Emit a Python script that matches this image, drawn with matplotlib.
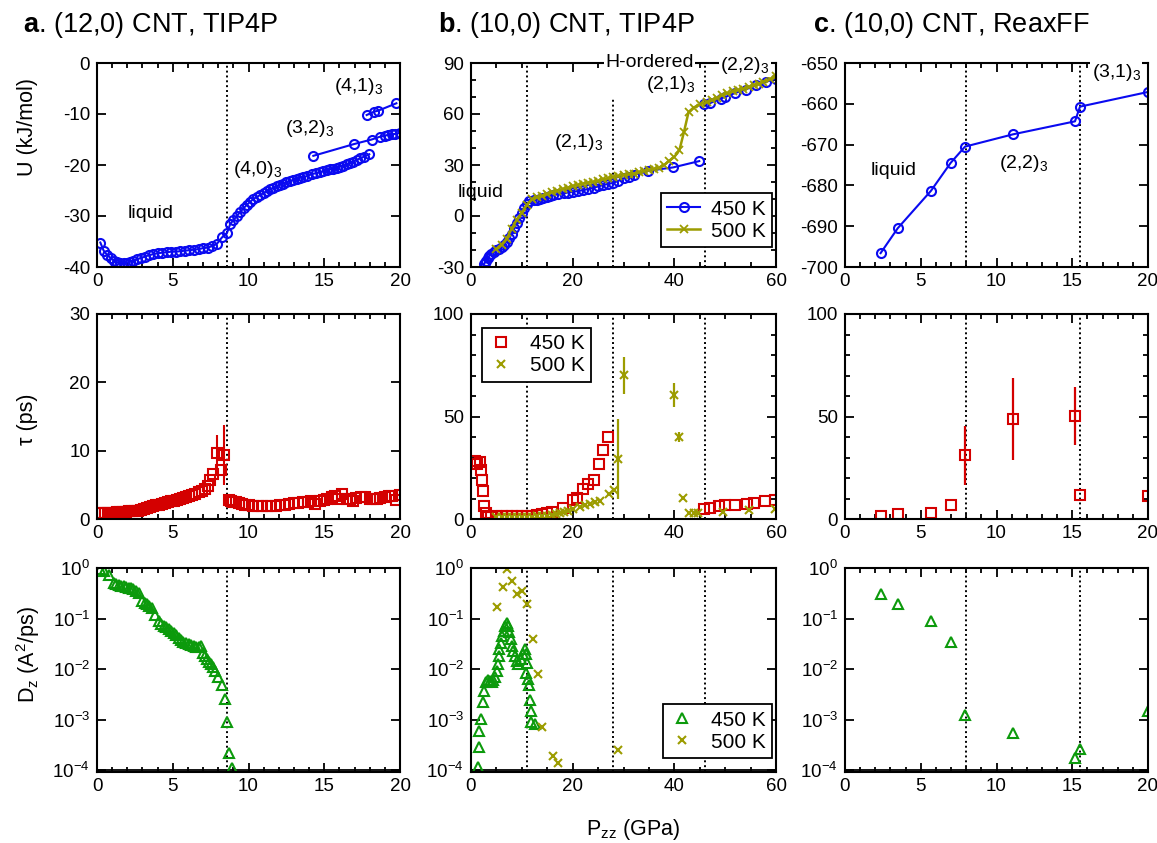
import matplotlib
matplotlib.use("Agg")
import matplotlib.pyplot as plt
from matplotlib.ticker import MultipleLocator, NullLocator, FixedLocator

plt.rcParams["font.family"] = ["Liberation Sans", "DejaVu Sans"]
plt.rcParams["mathtext.fontset"] = "custom"
plt.rcParams["mathtext.rm"] = "Liberation Sans"
plt.rcParams["mathtext.it"] = "Liberation Sans:italic"
plt.rcParams["mathtext.bf"] = "Liberation Sans:bold"
plt.rcParams["axes.unicode_minus"] = False

BLUE = "#0a0af0"
RED = "#d40000"
OLIVE = "#9c9c00"
GREEN = "#0c9a0c"

# ---------------- panel a: (12,0) CNT, TIP4P ----------------
a_u_p = [0.22, 0.44, 0.66, 0.92, 1.13, 1.35, 1.55, 1.75, 1.95, 2.15, 2.4, 2.65, 2.9,
         3.15, 3.4, 3.7, 4.0, 4.3, 4.6, 4.9, 5.2, 5.5, 5.8, 6.1, 6.4, 6.7, 7.0, 7.3,
         7.6, 7.9, 8.25, 8.57, 8.79, 9.0, 9.23, 9.45, 9.67, 9.89, 10.1, 10.3, 10.53,
         10.76, 11.0, 11.2, 11.42, 11.64, 11.86, 12.08, 12.3, 12.5, 12.73, 12.96, 13.18,
         13.4, 13.62, 13.84, 14.17, 14.45, 14.72, 14.94, 15.16, 15.38, 15.6, 15.82,
         16.04, 16.26, 16.48, 16.7, 16.9, 17.13, 17.36, 17.6, 17.97]
a_u = [-35.2, -36.8, -37.6, -38.3, -38.8, -39.1, -39.3, -39.3, -39.2, -39.0, -38.8,
       -38.5, -38.2, -38.0, -37.7, -37.5, -37.3, -37.2, -37.1, -37.0, -37.0, -36.9,
       -36.8, -36.7, -36.6, -36.5, -36.3, -36.2, -35.9, -35.5, -34.2, -33.4, -31.6,
       -30.8, -30.0, -29.2, -28.5, -27.8, -27.25, -26.7, -26.3, -25.9, -25.5, -25.1,
       -24.8, -24.45, -24.15, -23.9, -23.65, -23.4, -23.15, -22.9, -22.7, -22.5,
       -22.35, -22.2, -21.8, -21.6, -21.4, -21.2, -21.0, -20.85, -20.7, -20.5, -20.3,
       -20.1, -19.9, -19.65, -19.35, -19.0, -18.7, -18.4, -17.9]
a_u32_p = [14.28, 16.96, 18.13, 18.68, 19.0, 19.2, 19.45, 19.67, 20.0]
a_u32 = [-18.2, -15.9, -15.0, -14.45, -14.25, -14.1, -14.0, -13.9, -13.7]
a_u41_p = [17.8, 18.28, 18.56, 19.76]
a_u41 = [-10.2, -9.55, -9.35, -7.9]

a_tau_p = [0.1, 0.3, 0.5, 0.7, 0.9, 1.1, 1.3, 1.5, 1.7, 1.9, 2.1, 2.3, 2.5, 2.7, 2.9,
           3.1, 3.3, 3.5, 3.7, 3.9, 4.1, 4.3, 4.5, 4.7, 4.9, 5.1, 5.3, 5.5, 5.7, 5.9,
           6.1, 6.3, 6.5, 6.7, 6.9, 7.1, 7.3, 7.45, 7.65, 7.95, 8.17, 8.39, 8.68, 8.85,
           9.0, 9.2, 9.4, 9.6, 9.8, 10.0, 10.3, 10.6, 10.9, 11.2, 11.5, 11.8, 12.1,
           12.4, 12.7, 13.0, 13.3, 13.6, 13.9, 14.1, 14.4, 14.7, 15.0, 15.2, 15.5,
           15.7, 15.9, 16.2, 16.5, 16.7, 16.9, 17.1, 17.4, 17.7, 18.0, 18.2, 18.5,
           18.7, 19.0, 19.3, 19.5, 19.75, 20.0]
a_tau = [0.9, 0.9, 0.85, 0.9, 0.95, 0.95, 1.0, 1.0, 1.0, 1.05, 1.1, 1.1, 1.15, 1.2,
         1.3, 1.4, 1.55, 1.7, 1.85, 2.0, 2.1, 2.25, 2.4, 2.5, 2.6, 2.7, 2.8, 2.9, 3.05,
         3.2, 3.35, 3.5, 3.7, 4.0, 4.1, 4.4, 4.8, 5.7, 6.6, 9.6, 7.2, 9.4, 2.8, 2.7,
         2.55, 2.45, 2.3, 2.2, 2.1, 2.0, 1.95, 1.9, 1.85, 1.85, 1.9, 1.95, 2.0, 2.1,
         2.2, 2.3, 2.4, 2.5, 2.55, 2.6, 2.2, 2.7, 2.8, 3.0, 3.2, 3.3, 2.9, 3.6, 3.0,
         2.9, 2.6, 3.1, 3.2, 3.2, 3.0, 2.9, 3.0, 3.1, 3.2, 3.3, 3.4, 2.8, 3.5]
a_tau_err_p = [7.95, 8.39]
a_tau_err_v = [9.6, 9.4]
a_tau_err = [2.7, 4.4]

a_d_p = [0.22, 0.44, 0.77, 1.1, 1.25, 1.43, 1.6, 1.76, 1.93, 2.1, 2.25, 2.4, 2.6, 2.75,
         2.97, 3.15, 3.3, 3.45, 3.63, 3.85, 4.07, 4.25, 4.4, 4.57, 4.73, 4.9, 5.06,
         5.23, 5.4, 5.55, 5.7, 5.9, 6.05, 6.2, 6.4, 6.55, 6.7, 6.85, 7.0, 7.12, 7.25,
         7.38, 7.5, 7.65, 7.8, 8.0, 8.24, 8.46, 8.57, 8.68, 8.9]
a_d = [0.97, 0.89, 0.74, 0.51, 0.49, 0.47, 0.45, 0.44, 0.42, 0.41, 0.40, 0.38, 0.35,
       0.32, 0.22, 0.20, 0.19, 0.18, 0.165, 0.12, 0.09, 0.08, 0.072, 0.067, 0.062,
       0.057, 0.053, 0.047, 0.042, 0.038, 0.035, 0.033, 0.031, 0.030, 0.029, 0.028,
       0.027, 0.029, 0.021, 0.018, 0.016, 0.014, 0.0126, 0.011, 0.0094, 0.0069,
       0.0048, 0.0026, 0.00091, 0.00022, 0.000112]
a_trans = [8.6]

# ---------------- panel b: (10,0) CNT, TIP4P ----------------
b_u450_p = [2.5, 2.7, 3.0, 3.3, 3.6, 4.0, 4.5, 5.0, 5.5, 6.0, 6.5, 7.0, 7.5, 8.0, 8.5,
            9.0, 9.5, 10.0, 10.5, 11.0, 11.5, 12.3, 13.0, 13.6, 14.2, 14.9, 15.5,
            16.2, 17.2, 18.2, 19.1, 20.1, 21.1, 22.1, 23.1, 24.1, 25.0, 26.0, 27.0,
            28.0, 29.0, 30.0, 31.0, 32.0, 34.9, 39.8, 44.9]
b_u450 = [-28.5, -27.6, -26.2, -24.8, -23.3, -22.2, -21.2, -20.2, -19.4, -18.3, -16.8,
          -15.0, -13.0, -10.7, -7.3, -4.4, -1.4, 1.6, 4.8, 7.0, 8.6, 9.4, 9.6, 9.8,
          10.6, 11.3, 11.8, 12.3, 12.8, 13.3, 13.8, 14.25, 14.7, 15.25, 15.9, 16.6,
          17.4, 18.2, 18.9, 19.5, 20.7, 22.1, 23.2, 24.1, 26.6, 28.6, 32.3]
b_u450_hi_p = [45.9, 47.1, 49.1, 50.0, 52.0, 54.0, 56.0, 58.0, 60.0]
b_u450_hi = [65.7, 66.5, 69.1, 70.0, 72.4, 74.4, 76.9, 78.9, 80.8]
b_u500_p = [5.0, 6.0, 7.0, 8.0, 9.0, 10.0, 11.0, 12.0, 13.0, 14.0, 15.0, 16.0, 17.0,
            18.0, 19.0, 20.0, 21.0, 22.0, 23.0, 24.0, 25.0, 26.0, 27.0, 28.0, 29.0,
            30.0, 31.0, 32.0, 33.0, 34.0, 35.0, 36.0, 37.0, 38.0, 39.0, 40.0, 41.0,
            41.9, 42.8, 43.8, 45.1, 46.5, 47.4, 48.4, 49.3, 50.4, 51.6, 52.6, 53.6,
            54.6, 55.6, 56.6, 57.5, 58.8, 60.0]
b_u500 = [-19.6, -16.8, -13.4, -7.5, -2.2, 2.0, 6.5, 9.8, 11.0, 12.0, 13.0, 14.0, 14.9,
          15.8, 16.7, 17.6, 18.4, 19.1, 19.7, 20.1, 20.7, 21.5, 22.3, 23.1, 23.6,
          24.1, 24.5, 25.0, 25.7, 26.5, 27.2, 27.8, 28.5, 30.0, 32.5, 34.8, 38.7,
          49.5, 61.2, 63.8, 65.7, 67.2, 68.1, 69.5, 71.0, 72.2, 73.4, 74.2, 74.9,
          75.9, 76.9, 77.9, 78.9, 80.4, 82.2]

b_tau450_p = [0.79, 1.25, 1.77, 1.97, 2.17, 2.36, 2.62, 2.95, 3.4, 4.0, 5.0, 6.0, 7.0,
              8.0, 9.0, 10.0, 11.0, 12.0, 13.0, 14.0, 15.0, 16.0, 18.1, 20.0, 20.9,
              22.0, 23.1, 24.1, 25.1, 26.0, 27.0, 45.9, 47.0, 48.8, 50.0, 52.0, 54.3,
              55.6, 57.9, 59.8]
b_tau450 = [28.3, 27.0, 27.9, 23.8, 18.9, 13.7, 6.2, 2.9, 1.0, 1.2, 1.3, 1.3, 1.3, 1.3,
            1.3, 1.4, 1.5, 1.6, 1.8, 2.2, 2.8, 3.6, 5.4, 9.1, 10.4, 14.8, 17.3, 19.2,
            27.0, 33.9, 39.8, 5.1, 5.4, 6.2, 6.7, 7.0, 7.5, 8.0, 8.6, 9.5]
b_tau500_p = [5.0, 6.0, 7.0, 8.0, 9.0, 10.0, 11.0, 12.0, 13.0, 14.0, 15.0, 16.0, 16.8,
              17.5, 18.2, 19.1, 20.1, 21.4, 22.4, 23.4, 24.4, 25.3, 27.1, 28.1, 29.0,
              30.0, 40.0, 40.9, 41.8, 42.8, 43.8, 44.7, 49.6, 54.6, 59.8]
b_tau500 = [1.0, 1.0, 1.0, 1.0, 1.0, 1.0, 1.1, 1.2, 1.3, 1.4, 1.7, 2.1, 2.6, 3.0, 3.4,
            3.9, 5.1, 5.9, 6.7, 7.5, 8.3, 8.8, 12.1, 14.0, 29.5, 70.2, 60.4, 40.1,
            10.4, 2.9, 2.9, 2.9, 3.4, 4.2, 5.1]
b_tau500_err = [0, 0, 0, 0, 0, 0, 0, 0, 0, 0, 0, 0, 0, 0, 0, 0, 0, 0, 0, 0, 0, 0, 0,
                0, 19.5, 9.0, 5.7, 2.5, 0, 0, 0, 0, 0, 0, 0]

b_d450_p = [1.44, 1.57, 1.64, 1.97, 2.3, 2.62, 2.95, 3.4, 3.75, 4.07, 4.4, 4.73, 5.05,
            5.25, 5.45, 5.6, 5.84, 6.1, 6.4, 6.7, 7.03, 7.36, 7.56, 7.8, 8.1, 8.3,
            8.65, 9.0, 9.3, 9.76, 10.2, 10.6, 10.85, 11.1, 10.85, 11.2, 11.4, 11.6,
            11.8, 11.8, 12.6]
b_d450 = [1.18e-4, 2.9e-4, 5.9e-4, 1.05e-3, 2.2e-3, 3.7e-3, 5.5e-3, 6.1e-3, 5.8e-3,
          5.5e-3, 6.1e-3, 6.9e-3, 9.3e-3, 0.0126, 0.018, 0.025, 0.033, 0.045, 0.058,
          0.071, 0.082, 0.071, 0.055, 0.039, 0.029, 0.023, 0.018, 0.0145, 0.0126,
          0.0158, 0.0196, 0.025, 0.0196, 0.0135, 0.0086, 0.0063, 0.0049, 0.0025,
          0.0015, 0.00089, 0.00083]
b_d500_p = [5.05, 6.2, 7.03, 8.1, 9.0, 9.98, 11.1, 12.1, 13.1, 14.0, 16.1, 17.1, 29.0]
b_d500 = [0.167, 0.43, 0.955, 0.556, 0.305, 0.355, 0.195, 0.04, 0.0079, 0.00072,
          0.000195, 0.000142, 0.000257]
b_trans = [11.0, 28.0, 46.0]

# ---------------- panel c: (10,0) CNT, ReaxFF ----------------
c_p = [2.35, 3.48, 5.68, 6.97, 7.92, 11.07, 15.18, 15.51, 20.0]
c_u = [-696.6, -690.5, -681.3, -674.5, -670.5, -667.5, -664.3, -660.7, -657.1]
c_tau = [1.6, 2.45, 3.1, 7.0, 31.1, 48.6, 50.2, 11.9, 11.2]
c_tau_err = [0, 0, 0, 0, 14.3, 20.0, 14.3, 0, 0]
c_d = [0.305, 0.195, 0.091, 0.035, 0.00124, 0.00055, 0.000172, 0.000263, 0.00146]
c_trans = [8.0, 15.5]


def style(ax, xmaj, xmin, ymaj=None, ymin=None, log=False):
    ax.xaxis.set_major_locator(MultipleLocator(xmaj))
    ax.xaxis.set_minor_locator(MultipleLocator(xmin))
    if log:
        ax.set_yscale("log")
        ax.yaxis.set_major_locator(FixedLocator([1e-4, 1e-3, 1e-2, 1e-1, 1e0]))
        ax.yaxis.set_minor_locator(NullLocator())
        ax.axhline(1e-4, color="black", lw=1.3, zorder=1)
    else:
        ax.yaxis.set_major_locator(MultipleLocator(ymaj))
        if ymin:
            ax.yaxis.set_minor_locator(MultipleLocator(ymin))
        else:
            ax.yaxis.set_minor_locator(NullLocator())
    ax.tick_params(which="both", direction="in", top=True, right=True, width=1.3,
                   labelsize=13.5)
    ax.tick_params(which="major", length=6.5)
    ax.tick_params(which="minor", length=3.5)
    ax.tick_params(axis="y", pad=5)
    ax.tick_params(axis="x", pad=4)
    for s in ax.spines.values():
        s.set_linewidth(1.5)


def vlines(ax, xs):
    for x in xs:
        ax.axvline(x, color="black", ls=(0, (1, 1.5)), lw=1.4, zorder=1)


fig = plt.figure(figsize=(11.57, 8.43), dpi=100)
W, H = 1157.0, 843.0
cols = [(97, 303), (471, 305), (845, 303)]
rows = [(63, 267), (314, 519), (568, 772)]
axes = [[fig.add_axes([l / W, 1 - b / H, w / W, (b - t) / H]) for (l, w) in cols]
        for (t, b) in rows]

circ = dict(marker="o", ms=6.5, mfc="none", mew=1.5)
sq = dict(marker="s", ms=7, mfc="none", mew=1.5, ls="none")
tri = dict(marker="^", ms=7.5, mfc="none", mew=1.5, ls="none")
xx = dict(marker="x", ms=6, mew=1.5, ls="none")

# ---- a ----
ax = axes[0][0]
ax.plot(a_u_p, a_u, color=BLUE, lw=1.5, **circ)
ax.plot(a_u32_p, a_u32, color=BLUE, lw=1.5, **circ)
ax.plot(a_u41_p, a_u41, color=BLUE, lw=1.5, **circ)
vlines(ax, a_trans)
ax.set_xlim(0, 20)
ax.set_ylim(-40, 0)
style(ax, 5, 1, 10)
ax.text(3.55, -29.5, "liquid", fontsize=14, ha="center", va="center")
ax.text(10.6, -20.8, "(4,0)$_3$", fontsize=14, ha="center", va="center")
ax.text(14.05, -12.8, "(3,2)$_3$", fontsize=14, ha="center", va="center")
ax.text(17.25, -4.6, "(4,1)$_3$", fontsize=14, ha="center", va="center")

ax = axes[1][0]
ax.plot(a_tau_p, a_tau, color=RED, **sq)
ax.errorbar(a_tau_err_p, a_tau_err_v, yerr=a_tau_err, fmt="none", ecolor=RED,
            elinewidth=1.5, capsize=0)
vlines(ax, a_trans)
ax.set_xlim(0, 20)
ax.set_ylim(0, 30)
style(ax, 5, 1, 10)

ax = axes[2][0]
ax.plot(a_d_p, a_d, color=GREEN, **tri)
vlines(ax, a_trans)
ax.set_xlim(0, 20)
ax.set_ylim(0.93e-4, 1.0)
style(ax, 5, 1, log=True)

# ---- b ----
ax = axes[0][1]
ax.plot(b_u450_p, b_u450, color=BLUE, lw=1.5, label="450 K", **circ)
ax.plot(b_u450_hi_p, b_u450_hi, color=BLUE, lw=1.5, **circ)
ax.plot(b_u500_p, b_u500, color=OLIVE, lw=1.8, marker="x", ms=6, mew=1.3,
        label="500 K")
ax.axvline(b_trans[0], color="black", ls=(0, (1, 1.5)), lw=1.4, zorder=1)
ax.plot([b_trans[1], b_trans[1]], [-30, 70], color="black", ls=(0, (1, 1.5)), lw=1.4,
        zorder=1)
ax.axvline(b_trans[2], color="black", ls=(0, (1, 1.5)), lw=1.4, zorder=1)
ax.set_xlim(0, 60)
ax.set_ylim(-30, 90)
style(ax, 20, 5, 30, 10)
wb = dict(facecolor="white", edgecolor="none", pad=1.0)
ax.text(1.9, 14.0, "liquid", fontsize=14, ha="center", va="center", clip_on=False)
ax.text(21.1, 43.5, "(2,1)$_3$", fontsize=14, ha="center", va="center")
ax.text(35.1, 90.3, "H-ordered", fontsize=14, ha="center", va="center", bbox=wb,
        clip_on=False, zorder=5)
ax.text(39.2, 77.5, "(2,1)$_3$", fontsize=14, ha="center", va="center")
ax.text(53.9, 88.5, "(2,2)$_3$", fontsize=14, ha="center", va="center", bbox=wb,
        clip_on=False, zorder=5)
leg = ax.legend(loc="lower right", bbox_to_anchor=(0.987, 0.098), borderaxespad=0,
                fontsize=15, handlelength=1.6, handletextpad=0.5, fancybox=False,
                framealpha=1, edgecolor="black", borderpad=0.3, labelspacing=0.15)
leg.get_frame().set_linewidth(1.3)

ax = axes[1][1]
ax.plot(b_tau450_p, b_tau450, color=RED, label="450 K", **sq)
ax.plot(b_tau500_p, b_tau500, color=OLIVE, label="500 K", **xx)
ax.errorbar(b_tau500_p, b_tau500, yerr=b_tau500_err, fmt="none", ecolor=OLIVE,
            elinewidth=1.6, capsize=0)
vlines(ax, b_trans)
ax.set_xlim(0, 60)
ax.set_ylim(0, 100)
style(ax, 20, 5, 50, 10)
leg = ax.legend(loc="upper left", bbox_to_anchor=(0.036, 0.932), borderaxespad=0,
                fontsize=15, handlelength=1.2, handletextpad=0.8, fancybox=False,
                framealpha=1, edgecolor="black", borderpad=0.3, labelspacing=0.15)
leg.get_frame().set_linewidth(1.3)

ax = axes[2][1]
ax.plot(b_d450_p, b_d450, color=GREEN, label="450 K", **tri)
ax.plot(b_d500_p, b_d500, color=OLIVE, label="500 K", **xx)
vlines(ax, b_trans)
ax.set_xlim(0, 60)
ax.set_ylim(0.93e-4, 1.0)
style(ax, 20, 5, log=True)
leg = ax.legend(loc="lower right", bbox_to_anchor=(0.987, 0.069), borderaxespad=0,
                fontsize=15, handlelength=1.2, handletextpad=0.8, fancybox=False,
                framealpha=1, edgecolor="black", borderpad=0.3, labelspacing=0.15)
leg.get_frame().set_linewidth(1.3)

# ---- c ----
ax = axes[0][2]
ax.plot(c_p, c_u, color=BLUE, lw=1.5, **circ)
vlines(ax, c_trans)
ax.set_xlim(0, 20)
ax.set_ylim(-700, -650)
style(ax, 5, 1, 10)
ax.text(3.2, -676.3, "liquid", fontsize=14, ha="center", va="center")
ax.text(11.8, -674.6, "(2,2)$_3$", fontsize=14, ha="center", va="center")
ax.text(17.9, -652.3, "(3,1)$_3$", fontsize=14, ha="center", va="center", bbox=wb,
        clip_on=False, zorder=5)

ax = axes[1][2]
ax.plot(c_p, c_tau, color=RED, **sq)
ax.errorbar(c_p, c_tau, yerr=c_tau_err, fmt="none", ecolor=RED, elinewidth=1.6,
            capsize=0)
vlines(ax, c_trans)
ax.set_xlim(0, 20)
ax.set_ylim(0, 100)
style(ax, 5, 1, 50, 10)

ax = axes[2][2]
ax.plot(c_p, c_d, color=GREEN, **tri)
vlines(ax, c_trans)
ax.set_xlim(0, 20)
ax.set_ylim(0.93e-4, 1.0)
style(ax, 5, 1, log=True)

# titles and shared labels
fig.text(23 / W, 0.970, r"$\mathbf{a}$. (12,0) CNT, TIP4P", fontsize=19.5, va="center")
fig.text(438 / W, 0.970, r"$\mathbf{b}$. (10,0) CNT, TIP4P", fontsize=19.5, va="center")
fig.text(813 / W, 0.970, r"$\mathbf{c}$. (10,0) CNT, ReaxFF", fontsize=19.5, va="center")
fig.text(28 / W, 1 - 127.5 / H, "U (kJ/mol)", fontsize=15.5, rotation=90,
         ha="center", va="center")
fig.text(28 / W, 1 - 419 / H, "τ (ps)", fontsize=15.5, rotation=90,
         ha="center", va="center")
fig.text(28 / W, 1 - 655 / H, r"D$_\mathrm{z}$ (A$^2$/ps)", fontsize=15.5, rotation=90,
         ha="center", va="center")
fig.text(633 / W, 1 - 829 / H, r"P$_\mathrm{zz}$ (GPa)", fontsize=15.5, ha="center",
         va="center")

fig.savefig("out.png", dpi=100)
